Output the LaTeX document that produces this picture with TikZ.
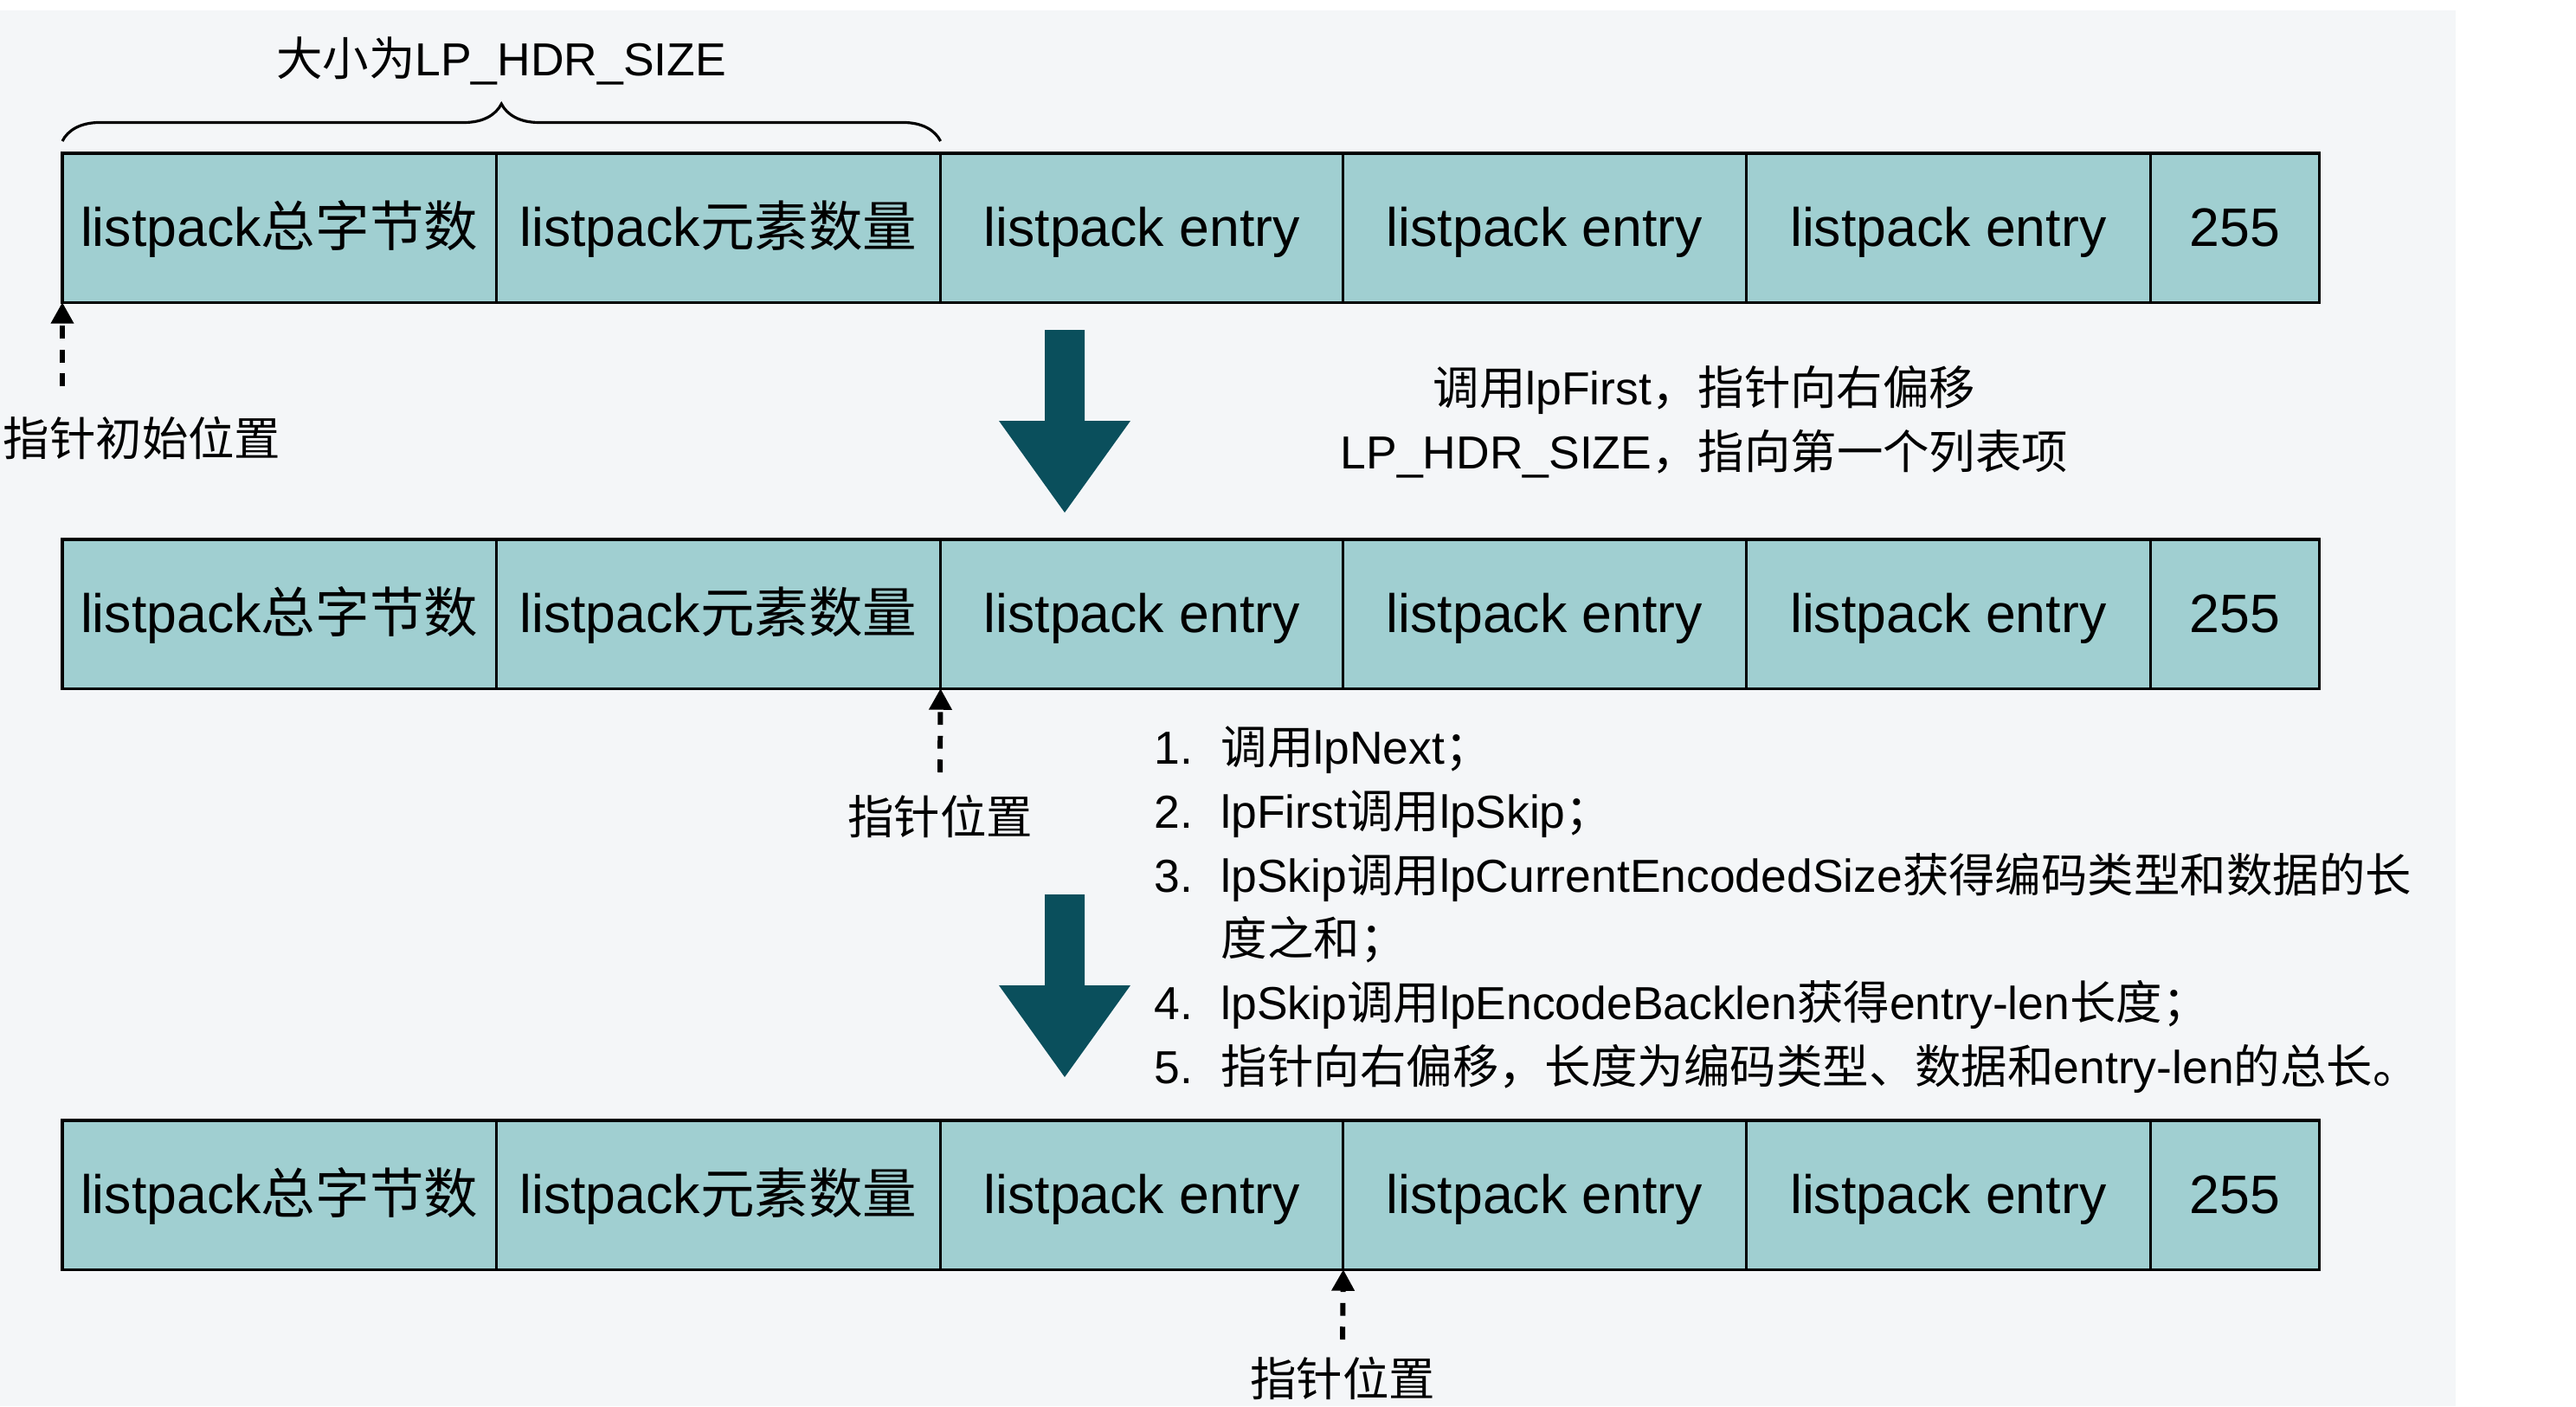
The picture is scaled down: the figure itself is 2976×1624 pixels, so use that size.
\documentclass[tikz,border=0pt]{standalone}
\usepackage{fontspec}
\setmainfont{Liberation Sans}
\newfontfamily\cjkfont{Noto Sans CJK SC}
\newcommand{\zh}[1]{{\cjkfont #1}}
\usetikzlibrary{positioning,decorations.pathreplacing,arrows.meta}

\definecolor{panelbg}{RGB}{244,246,248}
\definecolor{cellfill}{RGB}{160,207,209}
\definecolor{bigarrow}{RGB}{10,79,92}

\begin{document}
\begin{tikzpicture}[
        x=0.01cm, y=-0.01cm,
        cell/.style={draw, fill=cellfill, line width=0.9pt, minimum height=1.72cm,
                inner sep=0pt, outer sep=0pt, text height=16pt, text depth=3.6pt,
                font=\fontsize{17.8}{20}\selectfont},
        note/.style={font=\fontsize{15.2}{21}\selectfont, inner sep=0pt},
        ptr/.style={line width=1.7pt, dash pattern=on 4.2pt off 3.6pt,
                -{Triangle[length=7pt,width=7.2pt]}},
        downarrow/.pic={
                \fill[bigarrow] (-23,0) -- (23,0) -- (23,105) -- (76,105)
                    -- (0,211) -- (-76,105) -- (-23,105) -- cycle;
            }
    ]
    \useasboundingbox (0,0) rectangle (2976,1624);
    \fill[panelbg] (0,12) rectangle (2837,1624);

    % first row
    \node[cell, anchor=north west, minimum width=5.01cm] (a1) at (72,177) {listpack\zh{总字节数}};
    \node[cell, right=0pt of a1, minimum width=5.13cm] (a2) {listpack\zh{元素数量}};
    \node[cell, right=0pt of a2, minimum width=4.65cm] (a3) {listpack entry};
    \node[cell, right=0pt of a3, minimum width=4.65cm] (a4) {listpack entry};
    \node[cell, right=0pt of a4, minimum width=4.67cm] (a5) {listpack entry};
    \node[cell, right=0pt of a5, minimum width=1.95cm] (a6) {255};

    % second row
    \node[cell, anchor=north west, minimum width=5.01cm] (b1) at (72,623) {listpack\zh{总字节数}};
    \node[cell, right=0pt of b1, minimum width=5.13cm] (b2) {listpack\zh{元素数量}};
    \node[cell, right=0pt of b2, minimum width=4.65cm] (b3) {listpack entry};
    \node[cell, right=0pt of b3, minimum width=4.65cm] (b4) {listpack entry};
    \node[cell, right=0pt of b4, minimum width=4.67cm] (b5) {listpack entry};
    \node[cell, right=0pt of b5, minimum width=1.95cm] (b6) {255};

    % third row
    \node[cell, anchor=north west, minimum width=5.01cm] (c1) at (72,1294) {listpack\zh{总字节数}};
    \node[cell, right=0pt of c1, minimum width=5.13cm] (c2) {listpack\zh{元素数量}};
    \node[cell, right=0pt of c2, minimum width=4.65cm] (c3) {listpack entry};
    \node[cell, right=0pt of c3, minimum width=4.65cm] (c4) {listpack entry};
    \node[cell, right=0pt of c4, minimum width=4.67cm] (c5) {listpack entry};
    \node[cell, right=0pt of c5, minimum width=1.95cm] (c6) {255};

    % header size
    \draw[decorate, decoration={brace, amplitude=0.43cm}, line width=0.9pt]
        ([yshift=0.14cm]a1.north west) -- ([yshift=0.14cm]a2.north east);
    \node[note] (hdr) at (579,70) {\zh{大小为}LP\_HDR\_SIZE};

    % pointers
    \coordinate (p1) at (72,446);
    \draw[ptr] (p1) -- (a1.south west);
    \node[note, anchor=west] (p1text) at (3,506) {\zh{指针初始位置}};

    \coordinate (p2) at (1086,892);
    \draw[ptr] (p2) -- (b2.south east);
    \node[note] (p2text) at (1086,943) {\zh{指针位置}};

    \coordinate (p3) at (1551,1547);
    \draw[ptr] (p3) -- (c3.south east);
    \node[note] (p3text) at (1551,1592) {\zh{指针位置}};

    % steps
    \pic at (1230,381) {downarrow};
    \pic at (1230,1033) {downarrow};

    \node[note, align=center] (first) at (1969,487)
        {\zh{调用}lpFirst\zh{，指针向右偏移}\\LP\_HDR\_SIZE\zh{，指向第一个列表项}};

    \node[note, anchor=north west] (steps) at (1333,830) {%
        \begin{tabular}{@{}p{21.9pt}@{}l@{}}
            1. & \zh{调用}lpNext\zh{；} \\
            2. & lpFirst\zh{调用}lpSkip\zh{；} \\
            3. & lpSkip\zh{调用}lpCurrentEncodedSize\zh{获得编码类型和数据的长} \\
               & \zh{度之和；} \\
            4. & lpSkip\zh{调用}lpEncodeBacklen\zh{获得}entry-len\zh{长度；} \\
            5. & \zh{指针向右偏移，长度为编码类型、数据和}entry-len\zh{的总长。}
        \end{tabular}};
\end{tikzpicture}
\end{document}
